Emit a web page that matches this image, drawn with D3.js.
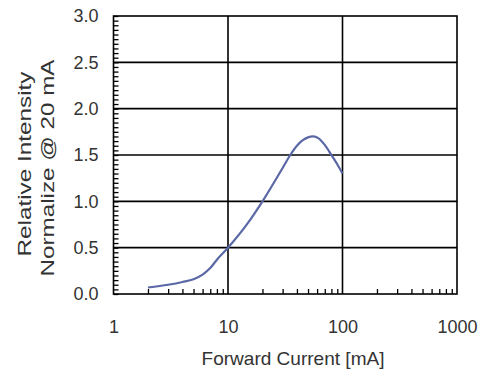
<!DOCTYPE html>
<html lang="en">
<head>
<meta charset="UTF-8">
<title>Relative Intensity vs Forward Current</title>
<script src="https://cdn.jsdelivr.net/npm/d3@7"></script>
<style>
  body { margin: 0; background: #fff; }
  text { font-family: "Liberation Sans", Arial, sans-serif; fill: #333; }
</style>
</head>
<body>
<svg id="chart" width="485" height="378"></svg>
<script>
// values
var current = [2, 3, 4, 5, 6, 7, 8, 10, 15, 20, 30, 35, 40, 45, 50, 55, 60, 70, 80, 90, 100];
var intensity = [0.07, 0.1, 0.13, 0.16, 0.21, 0.28, 0.37, 0.5, 0.77, 1.0, 1.36, 1.5, 1.6, 1.66, 1.69, 1.7, 1.69, 1.61, 1.5, 1.4, 1.3];
var xTicks = [1, 10, 100, 1000];
var yTicks = [0, 0.5, 1.0, 1.5, 2.0, 2.5, 3.0];
var xTitle = "Forward Current [mA]";
var yTitle = ["Relative Intensity", "Normalize @ 20 mA"];

var svg = d3.select("#chart");
var plotL = 113.5, plotR = 457, plotT = 16, plotB = 294;

var x = d3.scaleLog().domain([1, 1000]).range([plotL, plotR]);
var y = d3.scaleLinear().domain([0, 3]).range([plotB, plotT]);

// minor ticks (inside the frame)
var xMinor = [];
[1, 10, 100].forEach(function(d) {
  for (var k = 2; k <= 9; k++) xMinor.push(d * k);
});
var yMinor = d3.range(0, 3.001, 0.05).map(function(v) { return +v.toFixed(2); });

svg.append("g")
  .attr("transform", "translate(0," + plotB + ")")
  .call(d3.axisBottom(x).tickValues(xMinor).tickSize(-5).tickFormat(""))
  .call(function(g) { g.select(".domain").remove(); })
  .selectAll("line").attr("stroke", "#000").attr("stroke-width", 1.3);

svg.append("g")
  .attr("transform", "translate(" + plotL + ",0)")
  .call(d3.axisLeft(y).tickValues(yMinor).tickSize(-5).tickFormat(""))
  .call(function(g) { g.select(".domain").remove(); })
  .selectAll("line").attr("stroke", "#000").attr("stroke-width", 1.3);

// grid
svg.append("g").selectAll("line")
  .data([10, 100])
  .enter().append("line")
  .attr("x1", function(d) { return x(d); })
  .attr("x2", function(d) { return x(d); })
  .attr("y1", plotT).attr("y2", plotB)
  .attr("stroke", "#000").attr("stroke-width", 1.6);

svg.append("g").selectAll("line")
  .data([0.5, 1.0, 1.5, 2.0, 2.5])
  .enter().append("line")
  .attr("x1", plotL).attr("x2", plotR)
  .attr("y1", function(d) { return y(d); })
  .attr("y2", function(d) { return y(d); })
  .attr("stroke", "#000").attr("stroke-width", 1.6);

svg.append("rect")
  .attr("x", plotL).attr("y", plotT)
  .attr("width", plotR - plotL).attr("height", plotB - plotT)
  .attr("fill", "none").attr("stroke", "#000").attr("stroke-width", 1.6);

// tick labels
var xAxis = svg.append("g")
  .attr("transform", "translate(0," + plotB + ")")
  .call(d3.axisBottom(x).tickValues(xTicks).tickSize(0).tickPadding(26).tickFormat(d3.format("d")));
xAxis.select(".domain").remove();
xAxis.selectAll("text").attr("font-size", 18).style("font-family", "'Liberation Sans', Arial, sans-serif").attr("fill", "#333");

var yAxis = svg.append("g")
  .attr("transform", "translate(" + plotL + ",0)")
  .call(d3.axisLeft(y).tickValues(yTicks).tickSize(0).tickPadding(15).tickFormat(d3.format(".1f")));
yAxis.select(".domain").remove();
yAxis.selectAll("text").attr("font-size", 18).style("font-family", "'Liberation Sans', Arial, sans-serif").attr("fill", "#333");

// curve
var pts = current.map(function(c, i) { return [c, intensity[i]]; });
var line = d3.line()
  .x(function(d) { return x(d[0]); })
  .y(function(d) { return y(d[1]); })
  .curve(d3.curveMonotoneX);

svg.append("path")
  .datum(pts)
  .attr("d", line)
  .attr("fill", "none")
  .attr("stroke", "#5b68a6")
  .attr("stroke-width", 2.2);

// titles
svg.append("text")
  .attr("x", 293).attr("y", 365)
  .attr("text-anchor", "middle")
  .attr("font-size", 19)
  .attr("textLength", 183).attr("lengthAdjust", "spacingAndGlyphs")
  .text(xTitle);

svg.append("text")
  .attr("transform", "translate(31,164) rotate(-90)")
  .attr("text-anchor", "middle")
  .attr("font-size", 18)
  .attr("textLength", 185).attr("lengthAdjust", "spacingAndGlyphs")
  .text(yTitle[0]);

svg.append("text")
  .attr("transform", "translate(54,168) rotate(-90)")
  .attr("text-anchor", "middle")
  .attr("font-size", 18)
  .attr("textLength", 217).attr("lengthAdjust", "spacingAndGlyphs")
  .text(yTitle[1]);
</script>
</body>
</html>
